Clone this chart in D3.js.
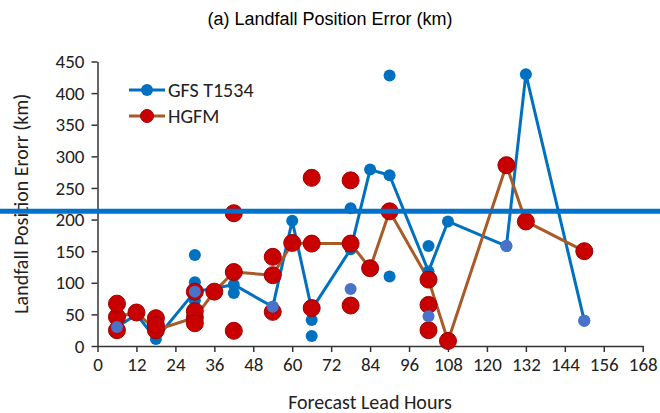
<!DOCTYPE html>
<html>
<head>
<meta charset="utf-8">
<script src="https://cdn.jsdelivr.net/npm/d3@7"></script>
<style>
  html, body { margin: 0; padding: 0; background: #fff; }
  svg { display: block; }
</style>
</head>
<body>
<svg id="chart" width="660" height="413"></svg>
<script>
// ---- data ----
const xTicks = [0, 12, 24, 36, 48, 60, 72, 84, 96, 108, 120, 132, 144, 156, 168];
const yTicks = [0, 50, 100, 150, 200, 250, 300, 350, 400, 450];

// GFS T1534 line (lead hour, error km)
const gfsLineHours  = [6, 12, 18, 30, 42, 54, 60, 66, 78, 84, 90, 102, 108, 126, 132, 150];
const gfsLineValues = [30, 50, 11, 86, 97, 62, 198, 58, 153, 279, 270, 118, 197, 158, 430, 40];

// GFS T1534 individual cases (markers only)
const gfsPtsHours  = [30, 30, 30, 42, 42, 66, 66, 78, 90, 90, 102];
const gfsPtsValues = [144, 101, 72, 111, 84, 41, 16, 218, 428, 110, 158];

// HGFM line
const hgfmLineHours  = [6, 12, 18, 30, 36, 42, 54, 60, 66, 78, 84, 90, 102, 108, 126, 132, 150];
const hgfmLineValues = [46, 53, 25, 45, 86, 117, 112, 163, 162, 162, 123, 213, 105, 8, 286, 197, 150];

// HGFM individual cases (markers only)
const hgfmPtsHours  = [6, 6, 18, 18, 30, 30, 30, 42, 42, 54, 54, 66, 66, 78, 78, 102, 102];
const hgfmPtsValues = [67, 25, 44, 33, 86, 55, 36, 210, 24, 141, 54, 266, 60, 262, 64, 65, 25];

// 24-hourly sample (lighter blue markers)
const sampleHours  = [6, 30, 54, 78, 102, 126, 150];
const sampleValues = [30, 86, 62, 90, 47, 158, 40];

// horizontal reference line across the figure
const refLineValue = 213;

const seriesNames = ["GFS T1534", "HGFM"];

// ---- drawing ----
const svg = d3.select("#chart");
const W = 660, H = 413;
const C_BLUE = "#0070C0", C_LIGHT = "#4A72C8", C_RED = "#C80000", C_BROWN = "#A85A28";
const FONT = "Carlito, Lato, 'Open Sans', sans-serif";

const x = d3.scaleLinear().domain([0, 168]).range([97.5, 642.7]);
const y = d3.scaleLinear().domain([0, 450]).range([346, 61.5]);

const zip = (a, b) => a.map((h, i) => ({h, v: b[i]}));
const gfsLine = zip(gfsLineHours, gfsLineValues);
const gfsPts = zip(gfsPtsHours, gfsPtsValues);
const hgfmLine = zip(hgfmLineHours, hgfmLineValues);
const hgfmPts = zip(hgfmPtsHours, hgfmPtsValues);
const sample = zip(sampleHours, sampleValues);

// title
svg.append("text")
  .attr("x", 330).attr("y", 25)
  .attr("text-anchor", "middle")
  .style("font-family", "'Liberation Sans', Arial, sans-serif")
  .style("font-size", "18px")
  .attr("fill", "#000")
  .text("(a) Landfall Position Error (km)");

// axes
const xAxis = d3.axisBottom(x).tickValues(xTicks).tickSize(6).tickSizeOuter(0).tickPadding(6);
const gx = svg.append("g").attr("transform", `translate(0,${y(0)})`).call(xAxis);
const yAxis = d3.axisLeft(y).tickValues(yTicks).tickSize(6).tickSizeOuter(0).tickPadding(7);
const gy = svg.append("g").attr("transform", `translate(${x(0)},0)`).call(yAxis);
[gx, gy].forEach(g => {
  g.select(".domain").attr("stroke", "#333").attr("stroke-width", 1.5);
  g.selectAll(".tick line").attr("stroke", "#333").attr("stroke-width", 1.5);
  g.selectAll(".tick text").style("font-family", FONT).style("font-size", "19px").attr("fill", "#222");
});

// axis titles
svg.append("text")
  .attr("x", 370).attr("y", 409)
  .attr("text-anchor", "middle")
  .style("font-family", FONT).style("font-size", "20px").attr("fill", "#222")
  .text("Forecast Lead Hours");
svg.append("text")
  .attr("transform", `translate(28,${(y(0)+y(450))/2}) rotate(-90)`)
  .attr("text-anchor", "middle")
  .style("font-family", FONT).style("font-size", "20px").attr("fill", "#222")
  .text("Landfall Position Erorr (km)");

const lineGen = d3.line().x(d => x(d.h)).y(d => y(d.v));

// lines
svg.append("path").datum(gfsLine).attr("d", lineGen)
  .attr("fill", "none").attr("stroke", C_BLUE).attr("stroke-width", 3).attr("stroke-linejoin", "round");
svg.append("path").datum(hgfmLine).attr("d", lineGen)
  .attr("fill", "none").attr("stroke", C_BROWN).attr("stroke-width", 3).attr("stroke-linejoin", "round");

// GFS markers
svg.append("g").selectAll("circle").data(gfsLine.concat(gfsPts)).join("circle")
  .attr("cx", d => x(d.h)).attr("cy", d => y(d.v)).attr("r", 6)
  .attr("fill", C_BLUE);

// HGFM markers
svg.append("g").selectAll("circle").data(hgfmLine.concat(hgfmPts)).join("circle")
  .attr("cx", d => x(d.h)).attr("cy", d => y(d.v)).attr("r", 8.5)
  .attr("fill", C_RED).attr("stroke", "#A00000").attr("stroke-width", 1);

// lighter sample markers on top
svg.append("g").selectAll("circle").data(sample).join("circle")
  .attr("cx", d => x(d.h)).attr("cy", d => y(d.v)).attr("r", 6)
  .attr("fill", C_LIGHT);

// legend
const legend = svg.append("g");
const legendItems = [
  {name: seriesNames[0], line: C_BLUE, fill: C_BLUE, r: 6, stroke: "none", ly: 90},
  {name: seriesNames[1], line: C_BROWN, fill: C_RED, r: 6.5, stroke: "#A00000", ly: 116}
];
legendItems.forEach(it => {
  legend.append("line").attr("x1", 129).attr("x2", 165).attr("y1", it.ly).attr("y2", it.ly)
    .attr("stroke", it.line).attr("stroke-width", 3);
  legend.append("circle").attr("cx", 147).attr("cy", it.ly).attr("r", it.r)
    .attr("fill", it.fill).attr("stroke", it.stroke);
  legend.append("text").attr("x", 168).attr("y", it.ly + 7)
    .style("font-family", FONT).style("font-size", "20px").attr("fill", "#222")
    .text(it.name);
});

// horizontal reference line across full width
svg.append("line")
  .attr("x1", 0).attr("x2", W)
  .attr("y1", y(refLineValue)).attr("y2", y(refLineValue))
  .attr("stroke", "#0072CC").attr("stroke-width", 5);
</script>
</body>
</html>
